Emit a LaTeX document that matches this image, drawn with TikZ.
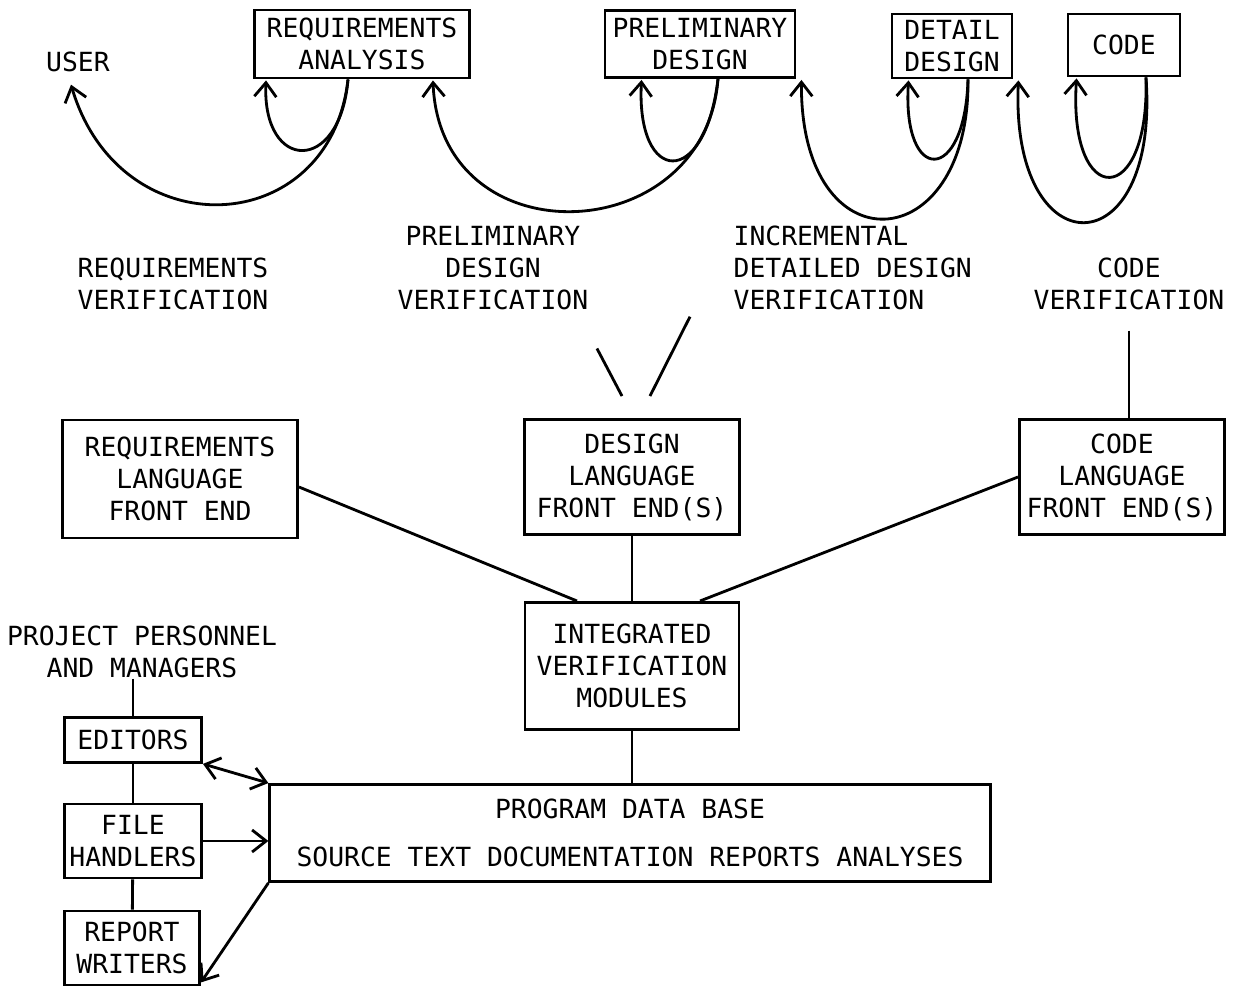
\documentclass[tikz,border=0pt]{standalone}
\usepackage{fontspec}
\setmonofont{DejaVu Sans Mono}
\usetikzlibrary{arrows.meta, calc, positioning}

\begin{document}
\begin{tikzpicture}[
    x=0.01cm, y=-0.01cm,
    >={Straight Barb[length=1.4mm, width=2.2mm]},
    box/.style ={draw, line width=0.8pt, align=center, inner sep=0pt,
                 font=\ttfamily\fontsize{7.5pt}{9.1pt}\selectfont},
    lbl/.style ={align=center, inner sep=0pt,
                 font=\ttfamily\fontsize{7.5pt}{9.1pt}\selectfont},
    flow/.style={->, line width=0.8pt},
    link/.style={line width=0.8pt},
]
\useasboundingbox[fill=white] (0,0) rectangle (1244,991);
\node[lbl] (user) at (78,62) {USER};
\node[box, minimum width=2.15cm, minimum height=0.68cm] (reqan)  at (362,44)  {REQUIREMENTS\\ANALYSIS};
\node[box, minimum width=1.9cm,  minimum height=0.67cm] (prelim) at (700,44)  {PRELIMINARY\\DESIGN};
\node[box, minimum width=1.2cm,  minimum height=0.64cm] (detail) at (952,46)  {DETAIL\\DESIGN};
\node[box, minimum width=1.12cm, minimum height=0.62cm] (code)   at (1124,45) {CODE};
\node[lbl] (reqver)    at (173,284)  {REQUIREMENTS\\VERIFICATION};
\node[lbl] (prelimver) at (493,268)  {PRELIMINARY\\DESIGN\\VERIFICATION};
\node[lbl, align=left, anchor=west] (incver) at (733,268) {INCREMENTAL\\DETAILED DESIGN\\VERIFICATION};
\node[lbl] (codever)   at (1129,284) {CODE\\VERIFICATION};
\node[box, minimum width=2.35cm, minimum height=1.18cm] (reqlang)  at (180,479)  {REQUIREMENTS\\LANGUAGE\\FRONT END};
\node[box, minimum width=2.15cm, minimum height=1.15cm] (design)   at (632,477)  {DESIGN\\LANGUAGE\\FRONT END(S)};
\node[box, minimum width=2.05cm, minimum height=1.15cm] (codelang) at (1122,477) {CODE\\LANGUAGE\\FRONT END(S)};
\node[box, minimum width=2.14cm, minimum height=1.27cm, below=6.5mm of design] (ivm) {INTEGRATED\\VERIFICATION\\MODULES};
\node[box, minimum width=7.2cm, minimum height=0.97cm] (pdb) at (630,833)
    {PROGRAM DATA BASE\\[4.5pt]SOURCE TEXT DOCUMENTATION REPORTS ANALYSES};
\node[lbl] (staff) at (142,652) {PROJECT PERSONNEL\\AND MANAGERS};
\node[box, minimum width=1.37cm, minimum height=0.45cm] (edit) at (133,740) {EDITORS};
\node[box, minimum width=1.37cm, minimum height=0.74cm] (fh)   at (133,841) {FILE\\HANDLERS};
\node[box, minimum width=1.35cm, minimum height=0.74cm] (rw)   at (132,948) {REPORT\\WRITERS};
\draw[flow] ($(reqan.south)+(-14,0)$) .. controls (330,240) and (120,250) .. ($(user.south)+(-7,12)$);
\draw[flow] ($(reqan.south)+(-14,0)$) .. controls (340,175) and (262,172) .. ($(reqan.south west)+(13,1)$);
\draw[flow] ($(prelim.south)+(18,0)$) .. controls (705,250) and (440,260) .. ($(reqan.south east)+(-38,1)$);
\draw[flow] ($(prelim.south)+(18,0)$) .. controls (705,190) and (636,185) .. ($(prelim.south west)+(38,1)$);
\draw[flow] ($(detail.south)+(16,0)$) .. controls (970,260) and (800,270) .. ($(prelim.south east)+(5,1)$);
\draw[flow] ($(detail.south)+(16,0)$) .. controls (965,185) and (902,185) .. ($(detail.south west)+(18,1)$);
\draw[flow] ($(code.south)+(22,0)$) .. controls (1160,270) and (1010,270) .. ($(detail.south east)+(5,1)$);
\draw[flow] ($(code.south)+(22,0)$) .. controls (1150,210) and (1068,210) .. ($(code.south west)+(10,1)$);
\draw[link] ($(prelimver.south east)+(8,38)$) -- ($(design.north)+(-10,-22)$);
\draw[link] ($(incver.south west)+(-43,6)$) -- ($(design.north)+(18,-22)$);
\draw[link] ($(codever.south)+(0,20)$) -- (codever.south |- codelang.north);
\draw[link] ([yshift=-0.08cm]reqlang.east) -- ([xshift=-0.55cm]ivm.north);
\draw[link] (codelang.west) -- ([xshift=0.68cm]ivm.north);
\draw[link] (design) -- (ivm);
\draw[link] (ivm.south) -- (ivm.south |- pdb.north);
\draw[link] (edit.north |- staff.south) -- (edit.north);
\draw[link] (edit) -- (fh);
\draw[link] (fh) -- (rw);
\draw[flow, <->] (edit.south east) -- (pdb.north west);
\draw[flow] (fh.east) -- (fh.east -| pdb.west);
\draw[flow] (pdb.south west) -- ([yshift=0.04cm]rw.south east);
\end{tikzpicture}
\end{document}
